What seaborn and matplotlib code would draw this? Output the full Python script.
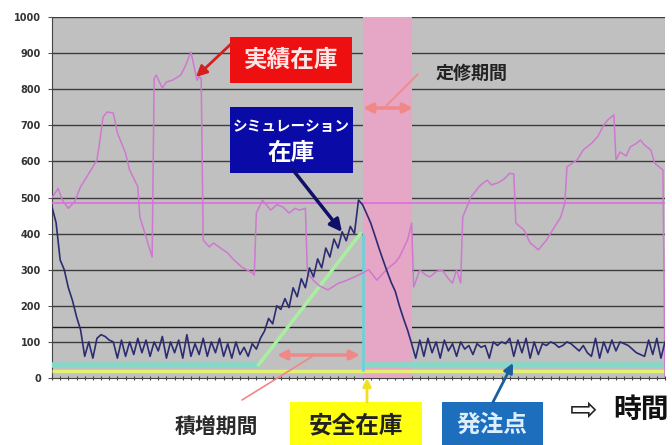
import matplotlib
matplotlib.use("Agg")
import matplotlib.pyplot as plt
import seaborn as sns
import numpy as np
from matplotlib.patches import Rectangle, FancyArrowPatch

# --- data ---
# actual inventory (実績在庫): day, quantity
actual_day = [0, 3, 5, 8, 11, 14, 17, 20, 22, 23,
              25, 27, 30, 32, 36, 38, 42, 43, 46, 49,
              50, 51, 54, 56, 59, 63, 65, 68, 71, 72,
              73, 74, 77, 79, 86, 89, 93, 98, 99, 100,
              103, 107, 110, 113, 116, 119, 121, 124, 125, 128,
              131, 135, 140, 144, 148, 152, 155, 159, 162, 165,
              168, 170, 174, 176, 177, 180, 183, 185, 188, 191,
              194, 196, 198, 200, 201, 205, 209, 211, 213, 215,
              218, 221, 224, 226, 227, 231, 234, 236, 238, 242,
              245, 249, 251, 252, 257, 260, 264, 267, 270, 272,
              275, 276, 278, 281, 283, 286, 288, 290, 293, 295,
              299, 300]
actual_qty = [500, 525, 493, 470, 488, 530, 557, 585, 604, 640,
              723, 737, 734, 679, 623, 576, 530, 446, 391, 335,
              830, 839, 803, 820, 825, 839, 861, 903, 825, 834,
              830, 382, 363, 374, 346, 327, 307, 291, 285, 457,
              493, 465, 480, 474, 457, 470, 465, 470, 291, 270,
              255, 244, 262, 270, 280, 291, 300, 271, 290, 307,
              320, 335, 382, 429, 252, 299, 285, 280, 295, 299,
              275, 263, 300, 263, 446, 501, 530, 540, 548, 535,
              540, 550, 567, 565, 429, 410, 374, 365, 355, 382,
              410, 446, 485, 585, 604, 632, 650, 668, 700, 715,
              729, 604, 626, 615, 640, 650, 659, 645, 632, 595,
              576, 0]

# simulated inventory (シミュレーション在庫), one value every 2 days
sim_qty = [474, 430, 327, 300, 250, 215, 170, 133,
           60, 100, 55, 110, 120, 115, 105, 100, 55, 105,
           60, 100, 65, 110, 70, 105, 60, 100, 75, 115,
           55, 100, 70, 105, 55, 120, 60, 95, 65, 110,
           60, 100, 70, 110, 60, 95, 55, 100, 65, 85,
           60, 95, 80, 110,
           130, 165, 150, 200, 190, 220, 195, 250, 225, 275,
           250, 305, 280, 330, 305, 360, 335, 385, 360, 405,
           380, 420, 400, 493, 480, 455, 429, 395, 360, 327,
           295, 265, 240, 200, 165, 133, 95, 55,
           105, 60, 110, 70, 100, 55, 105, 75, 95, 60,
           100, 80, 90, 65, 95, 85, 90, 55, 100, 90,
           100, 95, 110, 60, 105, 70, 110, 55, 100, 65,
           95, 90, 100, 95, 85, 90, 100, 95, 85, 75,
           90, 70, 60, 110, 55, 100, 70, 105, 75, 100,
           95, 90, 80, 70, 65, 60, 105, 65, 110, 55,
           100]
sim_day = np.arange(len(sim_qty)) * 2

safety_stock = 20
order_point = 36
order_day = [[0, 101], [152, 300]]
buildup_day = [101, 151]
buildup_qty = [36, 400]
maint_start, maint_end = 152, 176
upper_level = 485
lower_level = 140
yticks = list(range(0, 1001, 100))

W, H = 672, 445


def fxy(px, py):
    """figure pixel (from top-left) -> figure fraction"""
    return (px / W, 1 - py / H)


sns.set_style("white")
plt.rcParams["font.family"] = ["Noto Sans CJK JP", "DejaVu Sans"]

fig = plt.figure(figsize=(W / 100, H / 100), dpi=100)
ax = fig.add_axes([52 / W, 1 - 378 / H, (665 - 52) / W, (378 - 17) / H])
ax.set_facecolor("#c0c0c0")

# grid lines and reference levels
ax.hlines(yticks[1:], 0, 300, color="#3c3c3c", lw=1, zorder=1)
ax.hlines(lower_level, 0, 300, color="#202020", lw=1, zorder=1)
ax.axvspan(maint_start, maint_end, color="#e6a6c6", lw=0, zorder=2)
ax.hlines(upper_level, 0, 300, color="#dd6edd", lw=1.2, zorder=3)

# safety stock / order point / build-up
ax.hlines(safety_stock, 0, 300, color="#e4f070", lw=2.5, zorder=3)
for d in order_day:
    sns.lineplot(x=d, y=[order_point, order_point], ax=ax, color="#88d8c8",
                 lw=4, zorder=3)
sns.lineplot(x=buildup_day, y=buildup_qty, ax=ax, color="#a8f0a0", lw=2.5,
             zorder=3)
ax.vlines(maint_start, safety_stock, buildup_qty[-1], color="#70d0d8", lw=2,
          zorder=3)

# inventories
sns.lineplot(x=actual_day, y=actual_qty, ax=ax, color="#cf78cf", lw=1.1,
             zorder=4, sort=False, estimator=None)
sns.lineplot(x=sim_day, y=sim_qty, ax=ax, color="#2c2c72", lw=1.2, zorder=5,
             sort=False, estimator=None)

ax.set_xlim(0, 300)
ax.set_ylim(0, 1000)
ax.set_yticks(yticks)
ax.set_xticks(np.arange(0, 301, 4))
ax.set_xticklabels([])
ax.tick_params(axis="y", labelsize=7, labelcolor="#333333", length=3,
               color="#555555", pad=5, left=True)
ax.tick_params(axis="x", length=3, color="#444444", direction="inout",
               bottom=True)
for lab in ax.get_yticklabels():
    lab.set_fontweight("bold")
    lab.set_family("DejaVu Sans")
for s in ["top", "right"]:
    ax.spines[s].set_visible(False)
ax.spines["left"].set_color("#444444")
ax.spines["bottom"].set_color("#444444")
ax.set_xlabel("")
ax.set_ylabel("")


# --- annotations ---
def box(x0, y0, x1, y1, color):
    (fx0, fy1), (fx1, fy0) = fxy(x0, y0), fxy(x1, y1)
    fig.add_artist(Rectangle((fx0, fy0), fx1 - fx0, fy1 - fy0,
                             transform=fig.transFigure, color=color, lw=0,
                             zorder=6))


def label(px, py, s, **kw):
    fig.text(*fxy(px, py), s, ha="center", va="center", zorder=7, **kw)


def arrow(p0, p1, color, style="-|>", lw=2, ms=15):
    fig.add_artist(FancyArrowPatch(fxy(*p0), fxy(*p1), transform=fig.transFigure,
                                   arrowstyle=style, mutation_scale=ms,
                                   color=color, lw=lw, zorder=6,
                                   shrinkA=0, shrinkB=0))


box(230, 37, 352, 83, "#ee1010")
label(291, 60, "実績在庫", fontsize=17, fontweight="bold", color="#ffe6e6")
arrow((232, 43), (196, 77), "#d42020", lw=2, ms=16)

box(230, 107, 353, 173, "#0a0aa6")
label(291, 126, "シミュレーション", fontsize=10.5, fontweight="bold",
      color="white")
label(291, 153, "在庫", fontsize=17, fontweight="bold", color="white")
arrow((293, 170), (342, 232), "#101068", lw=2.5, ms=18)

label(472, 73, "定修期間", fontsize=13, fontweight="bold", color="#222222")
arrow((418, 74), (386, 106), "#f08888", style="-", lw=1.2)
arrow((363, 108), (413, 108), "#f08888", style="<|-|>", lw=2.5, ms=14)

label(216, 427, "積増期間", fontsize=15, fontweight="bold", color="#2a2a2a")
arrow((242, 400), (313, 356), "#f08888", style="-", lw=1.2)
arrow((277, 355), (360, 355), "#f08888", style="<|-|>", lw=2.5, ms=14)

box(290, 402, 422, 446, "#ffff10")
label(356, 425, "安全在庫", fontsize=17, fontweight="bold", color="#222222")
arrow((367, 402), (367, 378), "#f0e020", lw=2, ms=12)

box(442, 402, 543, 446, "#1e6ebe")
label(492, 425, "発注点", fontsize=17, fontweight="bold", color="#dcefff")
arrow((493, 402), (513, 363), "#1a5f9f", lw=2, ms=14)

label(584, 410, "⇨", fontsize=24, color="#222222", family="DejaVu Sans")
label(641, 410, "時間", fontsize=20, fontweight="bold", color="#111111")

plt.savefig("out.png", dpi=100)
plt.close()
